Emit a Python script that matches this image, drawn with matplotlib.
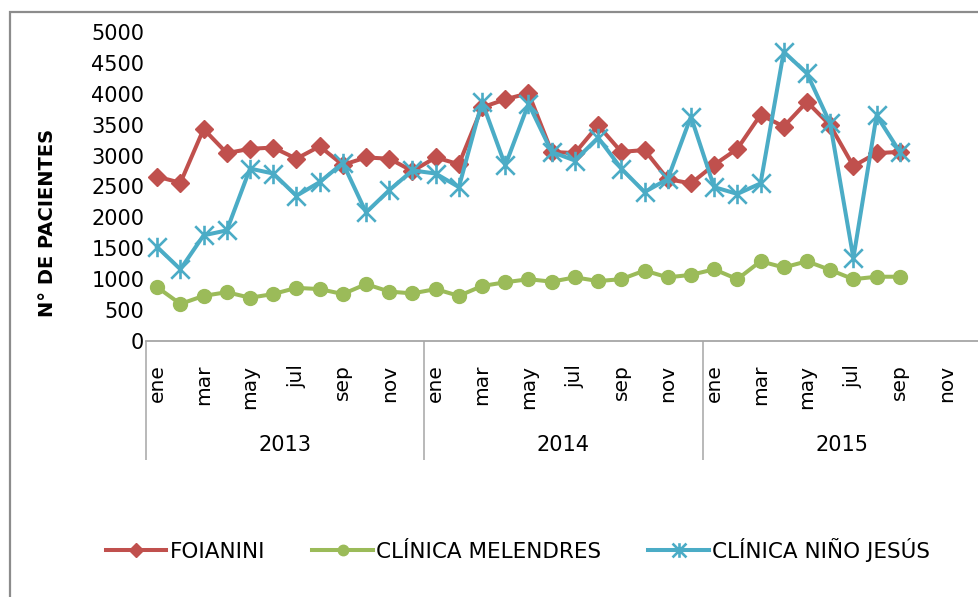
import matplotlib
matplotlib.use('Agg')
import matplotlib.pyplot as plt
from matplotlib.path import Path
from matplotlib.patches import Rectangle
import numpy as np

# ---------------- data ----------------
years = ['2013', '2014', '2015']
months = ['ene', 'feb', 'mar', 'abr', 'may', 'jun', 'jul', 'ago', 'sep', 'oct', 'nov', 'dic']
series_names = ['FOIANINI', 'CLÍNICA MELENDRES', 'CLÍNICA NIÑO JESÚS']

foianini = [2660, 2560, 3430, 3040, 3110, 3130, 2950, 3150, 2850, 2970, 2950, 2750,
            2970, 2860, 3780, 3910, 4010, 3060, 3040, 3490, 3060, 3090, 2620, 2550,
            2850, 3110, 3660, 3470, 3870, 3490, 2830, 3040, 3060]
melendres = [870, 600, 730, 790, 700, 760, 860, 840, 760, 920, 800, 770,
             840, 730, 890, 950, 1000, 960, 1030, 970, 1000, 1140, 1030, 1070,
             1160, 1000, 1290, 1190, 1290, 1150, 1000, 1040, 1040]
nino_jesus = [1520, 1160, 1710, 1790, 2790, 2710, 2350, 2570, 2880, 2080, 2440, 2760,
              2710, 2490, 3870, 2840, 3840, 3060, 2920, 3290, 2790, 2410, 2620, 3630,
              2490, 2380, 2550, 4680, 4330, 3520, 1340, 3650, 3060]

y_ticks = list(range(0, 5001, 500))
y_label = 'N° DE PACIENTES'

# ---------------- styling ----------------
RED = '#C0504D'
GREEN = '#9BBB59'
BLUE = '#4BACC6'
AXIS_GRAY = '#A6A6A6'
BORDER_GRAY = '#8C8C8C'
plt.rcParams['font.family'] = ['DejaVu Sans']

W, H = 979, 597
fig = plt.figure(figsize=(W / 100, H / 100), dpi=100)

# axes placement in pixels
left_px, right_px = 145.6, 981.0
top_px, bottom_px = 32.0, 341.0
ax = fig.add_axes([left_px / W, 1 - bottom_px / H,
                   (right_px - left_px) / W, (bottom_px - top_px) / H])

n_cat = len(years) * len(months)
x = np.arange(len(foianini))

star = Path([(-1, -1), (1, 1), (-1, 1), (1, -1), (0, -1.05), (0, 1.05)],
            [Path.MOVETO, Path.LINETO, Path.MOVETO, Path.LINETO, Path.MOVETO, Path.LINETO])

ax.plot(x, foianini, color=RED, lw=2.9, marker='D', ms=9, mfc=RED, mec=RED,
        label=series_names[0], zorder=3)
ax.plot(x, melendres, color=GREEN, lw=2.9, marker='o', ms=10, mfc=GREEN, mec=GREEN,
        label=series_names[1], zorder=3)
ax.plot(x, nino_jesus, color=BLUE, lw=2.9, marker=star, ms=14, mfc='none', mec=BLUE,
        mew=1.9, label=series_names[2], zorder=4)

ax.set_xlim(-0.5, n_cat - 0.5)
ax.set_ylim(0, 5000)
ax.set_yticks(y_ticks)
ax.set_yticklabels([str(v) for v in y_ticks], fontsize=15)
ax.tick_params(axis='y', length=0, pad=1)

tick_pos = list(range(0, n_cat, 2))
tick_lab = [months[i % 12] for i in tick_pos]
ax.set_xticks(tick_pos)
ax.set_xticklabels(tick_lab, rotation=90, fontsize=14.5, va='top', ha='center')
ax.tick_params(axis='x', length=0, pad=17)

for s in ['top', 'right', 'left']:
    ax.spines[s].set_visible(False)
ax.spines['bottom'].set_color(AXIS_GRAY)
ax.spines['bottom'].set_linewidth(1.3)

# year group labels and dividers
div_bottom = -(460 - bottom_px) / (bottom_px - top_px)
ax.vlines([i * 12 - 0.5 for i in range(len(years) + 1)], div_bottom, 0,
          transform=ax.get_xaxis_transform(), colors=AXIS_GRAY, lw=1.1, clip_on=False)
year_y = -(445 - bottom_px) / (bottom_px - top_px)
for i, yr in enumerate(years):
    ax.text(i * 12 + 5.5, year_y, yr, transform=ax.get_xaxis_transform(),
            ha='center', va='center', fontsize=15)

# y axis title
fig.text(48 / W, 1 - 223 / H, y_label, rotation=90, ha='center', va='center',
         fontsize=14, fontweight='bold')

# legend
fig.legend(loc='center', bbox_to_anchor=(518 / W, 1 - 550 / H), ncol=3, frameon=False,
           fontsize=15.5, handlelength=2.8, handletextpad=0.15, columnspacing=2.2,
           markerscale=0.75)

# outer chart border (clipped by the image edges)
fig.patches.append(Rectangle((10 / W, -0.1), 1.2, (H - 12) / H + 0.1, fill=False,
                             edgecolor=BORDER_GRAY, lw=1.6, transform=fig.transFigure,
                             zorder=0))

fig.savefig('out.png', dpi=100)
